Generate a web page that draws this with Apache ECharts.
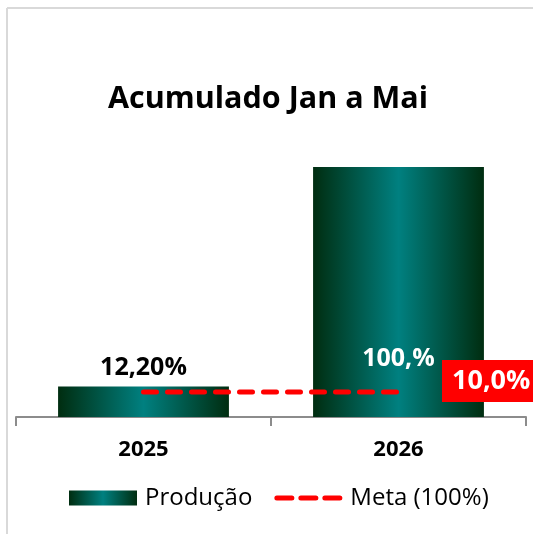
<!DOCTYPE html>
<html>
<head>
<meta charset="utf-8">
<script src="https://cdn.jsdelivr.net/npm/echarts@6/dist/echarts.min.js"></script>
<style>
  html, body { margin: 0; padding: 0; background: #fff; }
  #chart { width: 533px; height: 534px; }
</style>
</head>
<body>
<div id="chart"></div>
<script>
var categories = ['2025', '2026'];
var producao = [12.2, 100];
var producaoLabels = ['12,20%', '100,%'];
var meta = [10, 10];
var metaLabels = ['', '10,0%'];

var font = '"Open Sans", sans-serif';

var barGrad = new echarts.graphic.LinearGradient(0, 0, 1, 0, [
  { offset: 0, color: '#002d10' },
  { offset: 0.5, color: '#008080' },
  { offset: 1, color: '#002d10' }
]);

// three rounded dashes for the meta legend icon
var dashIcon = 'path://' + [0, 24, 48].map(function (x) {
  return 'M' + (x + 2.5) + ',5h15a2.5,2.5 0 0 1 0,5h-15a2.5,2.5 0 0 1 0,-5z';
}).join('');

var chart = echarts.init(document.getElementById('chart'));

var barData = producao.map(function (v, i) {
  var item = { value: v, label: { formatter: producaoLabels[i] } };
  if (i === 1) {
    // label sits inside the tall bar, white
    item.label.position = 'insideBottom';
    item.label.distance = 46;
    item.label.color = '#fff';
  }
  return item;
});

var metaData = meta.map(function (v, i) {
  var item = { value: v };
  if (metaLabels[i]) {
    item.label = {
      show: true,
      position: 'right',
      distance: 43,
      offset: [0, -11],
      formatter: metaLabels[i],
      color: '#fff',
      backgroundColor: '#ff0000',
      fontFamily: font,
      fontWeight: 'bold',
      fontSize: 27,
      padding: [8, 10, 7, 10]
    };
  }
  return item;
});

chart.setOption({
  animation: false,
  title: {
    text: 'Acumulado Jan a Mai',
    left: 263,
    textAlign: 'center',
    top: 79,
    textStyle: { fontFamily: font, fontWeight: 'bold', fontSize: 30.5, color: '#000' }
  },
  graphic: [
    { type: 'line', shape: { x1: 7, y1: 8, x2: 533, y2: 8 }, style: { stroke: '#d9d9d9', lineWidth: 2 } },
    { type: 'line', shape: { x1: 7, y1: 8, x2: 7, y2: 534 }, style: { stroke: '#d9d9d9', lineWidth: 2 } }
  ],
  legend: {
    bottom: 19,
    left: 64,
    itemGap: 22,
    itemWidth: 68,
    itemHeight: 15,
    textStyle: { fontFamily: font, fontSize: 24, color: '#000', padding: [0, 0, 0, 3] },
    data: [
      { name: 'Produção', icon: 'rect' },
      { name: 'Meta (100%)', icon: dashIcon, itemStyle: { color: '#ff0000' } }
    ]
  },
  grid: { left: 16, right: 7, top: 167, bottom: 117 },
  xAxis: {
    type: 'category',
    data: categories,
    axisLine: { lineStyle: { color: '#8c8c8c', width: 2 } },
    axisTick: { show: true, length: 9, lineStyle: { color: '#8c8c8c', width: 2 } },
    axisLabel: { margin: 22, fontFamily: font, fontWeight: 'bold', fontSize: 22, color: '#000' }
  },
  yAxis: { type: 'value', min: 0, max: 100, show: false, splitLine: { show: false } },
  series: [
    {
      name: 'Produção',
      type: 'bar',
      barWidth: '67%',
      itemStyle: { color: barGrad },
      label: {
        show: true,
        position: 'top',
        distance: 6,
        fontFamily: font,
        fontWeight: 'bold',
        fontSize: 25,
        color: '#000'
      },
      data: barData
    },
    {
      name: 'Meta (100%)',
      type: 'line',
      symbol: 'circle',
      symbolSize: 1,
      lineStyle: { color: '#ff0000', width: 5, type: [13, 11], cap: 'round' },
      itemStyle: { color: '#ff0000' },
      z: 5,
      data: metaData
    }
  ]
});
</script>
</body>
</html>
